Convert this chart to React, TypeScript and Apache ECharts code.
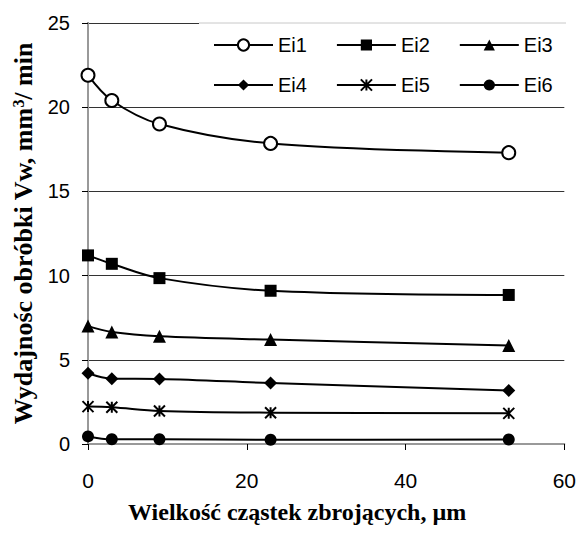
import React, { useEffect, useRef } from "react";
import * as echarts from "echarts";

const xValues = [0, 3, 9, 23, 53];
const seriesNames = ["Ei1", "Ei2", "Ei3", "Ei4", "Ei5", "Ei6"];
const ei1 = [21.9, 20.4, 19.0, 17.85, 17.3];
const ei2 = [11.2, 10.7, 9.85, 9.1, 8.85];
const ei3 = [7.0, 6.65, 6.4, 6.2, 5.85];
const ei4 = [4.2, 3.88, 3.86, 3.62, 3.17];
const ei5 = [2.22, 2.18, 1.96, 1.86, 1.82];
const ei6 = [0.45, 0.28, 0.28, 0.25, 0.27];
const allValues = [ei1, ei2, ei3, ei4, ei5, ei6];

const xTitle = "Wielkość cząstek zbrojących, µm";
const yTitle = "Wydajnośc obróbki Vw, mm{sup|3}/ min";

const starPath = "path://M0,0 L10,10 M10,0 L0,10 M5,0 L5,10";
const symbols = ["emptyCircle", "rect", "triangle", "diamond", starPath, "circle"];
const symbolSizes: any[] = [13, 12, 13, [13, 13], 11, 12];

export default function App() {
  const ref = useRef<HTMLDivElement>(null);
  useEffect(() => {
    if (!ref.current) return;
    const chart = echarts.init(ref.current, null, { renderer: "svg" });
    const sans = "'Liberation Sans', Arial, sans-serif";
    const serif = "'Liberation Serif', 'Times New Roman', serif";
    const series = allValues.map((vals, i) => ({
      name: seriesNames[i],
      type: "line",
      smooth: 0.35,
      data: vals.map((v, j) => [xValues[j], v]),
      symbol: symbols[i],
      symbolSize: symbolSizes[i],
      showSymbol: true,
      lineStyle: { color: "#000", width: 2 },
      itemStyle:
        i === 4
          ? { color: "#000", borderColor: "#000", borderWidth: 2 }
          : i === 0
          ? { color: "#000", borderWidth: 2 }
          : { color: "#000" },
      z: 3,
    }));
    const legendCommon = {
      orient: "horizontal",
      left: 213,
      padding: 0,
      itemWidth: 59,
      itemHeight: 14,
      itemGap: 29,
      lineStyle: { width: 2, color: "#000" },
      textStyle: { fontFamily: sans, fontSize: 20, color: "#000", lineHeight: 20 },
    };
    chart.setOption({
      animation: false,
      backgroundColor: "#fff",
      grid: { left: 88, right: 14, top: 23, bottom: 93, containLabel: false },
      legend: [
        { ...legendCommon, top: 35, data: seriesNames.slice(0, 3) },
        { ...legendCommon, top: 75, data: seriesNames.slice(3, 6) },
      ],
      graphic: [
        {
          type: "rect",
          z: 1,
          shape: { x: 199, y: 21, width: 369, height: 84 },
          style: { fill: "#fff" },
        },
        {
          type: "line",
          z: 1,
          shape: { x1: 199, y1: 23, x2: 566, y2: 23 },
          style: { stroke: "#c8c8c8", lineWidth: 1 },
        },
      ],
      xAxis: [
        {
          type: "value",
          min: 0,
          max: 60,
          interval: 20,
          name: xTitle,
          nameLocation: "middle",
          nameGap: 56,
          nameTextStyle: {
            fontFamily: serif,
            fontWeight: "bold",
            fontSize: 24,
            color: "#000",
            padding: [0, 58, 0, 0],
          },
          axisLine: { show: true, lineStyle: { color: "#000", width: 1.5 } },
          axisTick: { show: true, inside: false, length: 6, lineStyle: { color: "#000" } },
          axisLabel: { fontFamily: sans, fontSize: 21, color: "#000", margin: 26 },
          splitLine: { show: false },
        },
        {
          type: "value",
          position: "top",
          min: 0,
          max: 60,
          interval: 20,
          axisLine: { show: true, lineStyle: { color: "#999", width: 2 } },
          axisTick: { show: false },
          axisLabel: { show: false },
          splitLine: { show: false },
        },
      ],
      yAxis: [
        {
          type: "value",
          min: 0,
          max: 25,
          interval: 5,
          name: yTitle,
          nameLocation: "middle",
          nameGap: 50,
          nameTextStyle: {
            fontFamily: serif,
            fontWeight: "bold",
            fontSize: 26,
            color: "#000",
            rich: {
              sup: {
                fontFamily: serif,
                fontWeight: "bold",
                fontSize: 16,
                color: "#000",
                verticalAlign: "top",
                padding: [0, 0, 10, 0],
              },
            },
          },
          axisLine: { show: true, lineStyle: { color: "#000", width: 1.5 } },
          axisTick: { show: true, inside: false, length: 6, lineStyle: { color: "#000" } },
          axisLabel: { fontFamily: sans, fontSize: 20, color: "#000", margin: 18 },
          splitLine: { show: true, lineStyle: { color: "#333", width: 1 } },
        },
        {
          type: "value",
          position: "right",
          min: 0,
          max: 25,
          interval: 5,
          axisLine: { show: true, lineStyle: { color: "#999", width: 2 } },
          axisTick: { show: false },
          axisLabel: { show: false },
          splitLine: { show: false },
        },
      ],
      series,
    });
    return () => chart.dispose();
  }, []);
  return <div ref={ref} style={{ width: 579, height: 537, position: "absolute", left: 0, top: 0 }} />;
}
